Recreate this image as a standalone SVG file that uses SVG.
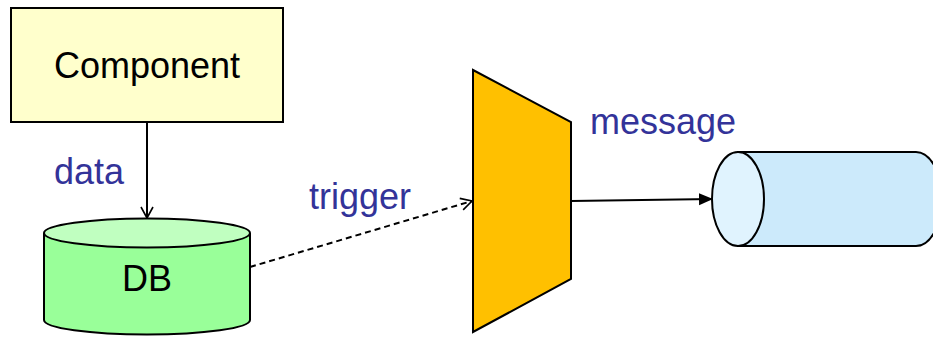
<svg xmlns="http://www.w3.org/2000/svg" width="933" height="338" viewBox="0 0 933 338">
<defs>
<style>
.ln{stroke:#000;stroke-width:2;fill:none}
.lbl{font-family:"Liberation Sans",Arial,sans-serif;font-size:36px;fill:#333399}
.nt{font-family:"Liberation Sans",Arial,sans-serif;font-size:36px;fill:#000;text-anchor:middle}
.sh{stroke:#000;stroke-width:2}
</style>
<marker id="open" markerWidth="14" markerHeight="14" refX="12" refY="7" orient="auto" markerUnits="userSpaceOnUse">
<path d="M1,1 L12,7 L1,13" fill="none" stroke="#000" stroke-width="1.6"/>
</marker>
<marker id="filled" markerWidth="16" markerHeight="14" refX="14" refY="7" orient="auto" markerUnits="userSpaceOnUse">
<path d="M0,1 L14,7 L0,13 Z" fill="#000"/>
</marker>
</defs>
<rect width="933" height="338" fill="#fff"/>
<g id="connectors">
<line class="ln" x1="147" y1="122" x2="147" y2="218" marker-end="url(#open)"/>
<line class="ln" x1="250" y1="267" x2="472" y2="201" stroke-dasharray="6,4" marker-end="url(#open)"/>
<line class="ln" x1="571" y1="201" x2="713" y2="199" marker-end="url(#filled)"/>
</g>
<g id="component">
<rect class="sh" x="11" y="8" width="272" height="114" fill="#ffffcc"/>
<text class="nt" x="147" y="78">Component</text>
</g>
<g id="db">
<path class="sh" d="M44,233 L44,320 A103,14.5 0 0 0 250,320 L250,233" fill="#99ff99"/>
<ellipse class="sh" cx="147" cy="233" rx="103" ry="14.5" fill="#c0ffc0"/>
<text class="nt" x="147" y="291">DB</text>
</g>
<g id="filter">
<polygon class="sh" points="473,70 571,122 571,279 473,332" fill="#ffc000"/>
</g>
<g id="channel">
<path class="sh" d="M738,152 L916,152 A26,47 0 0 1 916,246 L738,246 Z" fill="#cceafb"/>
<ellipse class="sh" cx="738" cy="199" rx="26" ry="47" fill="#e0f3fe"/>
</g>
<g id="labels">
<text class="lbl" x="54" y="184">data</text>
<text class="lbl" x="309" y="209">trigger</text>
<text class="lbl" x="590" y="134">message</text>
</g>
</svg>
